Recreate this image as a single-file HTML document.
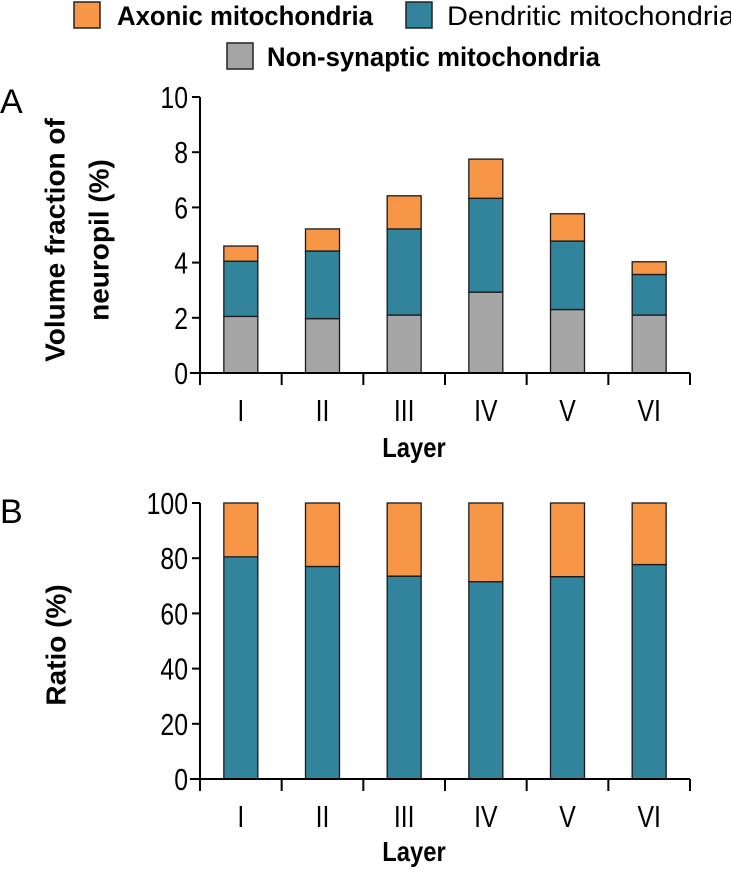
<!DOCTYPE html>
<html><head><meta charset="utf-8"><style>
body{margin:0;background:#fff;}
svg text{font-family:"Liberation Sans",sans-serif;}
</style></head><body>
<svg id="fig" width="731" height="868" xmlns="http://www.w3.org/2000/svg">
<g>
<rect x="74" y="2" width="26" height="26" fill="#F79646" stroke="#222" stroke-width="1.5"/>
<text x="117" y="25" font-size="27" font-weight="bold" textLength="256" lengthAdjust="spacingAndGlyphs">Axonic mitochondria</text>
<rect x="406" y="2" width="26" height="26" fill="#31849B" stroke="#222" stroke-width="1.5"/>
<text x="447" y="25" font-size="27" textLength="288" lengthAdjust="spacingAndGlyphs">Dendritic mitochondria</text>
<rect x="227" y="43" width="26" height="26" fill="#A6A6A6" stroke="#222" stroke-width="1.5"/>
<text x="267" y="66" font-size="27" font-weight="bold" textLength="333" lengthAdjust="spacingAndGlyphs">Non-synaptic mitochondria</text>
</g>
<text x="0" y="113" font-size="34">A</text>
<text x="0" y="523" font-size="34">B</text>
<g id="chartA"></g>
<g id="chartB"></g>
</svg>
<script>
const categories = ["I","II","III","IV","V","VI"];
const nonSynaptic = [2.05,1.97,2.1,2.93,2.3,2.1];
const dendritic = [2.0,2.45,3.12,3.4,2.48,1.47];
const axonic = [0.55,0.8,1.2,1.42,0.99,0.46];
const ticksA = [0,2,4,6,8,10];
const ratioDendritic = [80.5,77,73.5,71.5,73.3,77.7];
const ratioAxonic = [19.5,23,26.5,28.5,26.7,22.3];
const ticksB = [0,20,40,60,80,100];

const NS="http://www.w3.org/2000/svg";
function mk(parent,tag,attrs){const e=document.createElementNS(NS,tag);for(const k in attrs)e.setAttribute(k,attrs[k]);parent.appendChild(e);return e;}

function drawChart(g,opt){
  const x0=200,x1=690,y0=opt.y0,y1=opt.y1;
  const ys=v=>y0-(v-opt.min)/(opt.max-opt.min)*(y0-y1);
  const bw=(x1-x0)/categories.length;
  const xc=i=>x0+bw*(i+0.5);
  opt.series.forEach((s,si)=>{
    categories.forEach((c,i)=>{
      let base=0;for(let k=0;k<si;k++)base+=opt.series[k].vals[i];
      const top=base+s.vals[i];
      const r=mk(g,'rect',{x:xc(i)-17,y:ys(top),width:34,height:ys(base)-ys(top),fill:s.color,stroke:'#1a1a1a','stroke-width':1.3});
      
      
    });
  });
  const ya=mk(g,'line',{x1:x0,y1:ys(opt.max),x2:x0,y2:y0,stroke:'#000','stroke-width':2});
  
  
  const xa=mk(g,'line',{x1:x0-10,y1:y0,x2:x1,y2:y0,stroke:'#000','stroke-width':2});
  
  
  opt.ticks.forEach(t=>{
    const tl=mk(g,'line',{x1:x0-8,y1:ys(t),x2:x0,y2:ys(t),stroke:'#000','stroke-width':2});
    
    
    const tx=mk(g,'text',{x:x0-12,y:ys(t)+11,'font-size':31,'text-anchor':'end',transform:'scale(0.8,1)','transform-origin':(x0-12)+' '+ys(t)});
    tx.textContent=t;
    
    
  });
  for(let i=0;i<=categories.length;i++){
    const tl=mk(g,'line',{x1:x0+bw*i,y1:y0,x2:x0+bw*i,y2:y0+12,stroke:'#000','stroke-width':2});
    
    
  }
  categories.forEach((c,i)=>{
    const tx=mk(g,'text',{x:xc(i),y:y0+48,'font-size':31,'text-anchor':'middle',transform:'scale(0.8,1)','transform-origin':xc(i)+' '+(y0+48)});
    tx.textContent=c;
    
    
  });
  const ly=y0+opt.layerDy;
  const lt=mk(g,'text',{x:414,y:ly,'font-size':28,'font-weight':'bold','text-anchor':'middle',transform:'scale(0.85,1)','transform-origin':'414 '+ly});
  lt.textContent='Layer';
  
  
  opt.ytitle.forEach((line,li)=>{
    const cx=opt.ytx[li], cy=opt.ytc;
    const t=mk(g,'text',{x:cx,y:cy,'font-size':28,'font-weight':'bold','text-anchor':'middle','dominant-baseline':'central',transform:'rotate(-90 '+cx+' '+cy+')'});
    t.textContent=line;
    
    
  });
}
drawChart(document.getElementById('chartA'),{y0:373,y1:97,min:0,max:10,ticks:ticksA,layerDy:84,
  series:[{name:'nonsynaptic',vals:nonSynaptic,color:'#A6A6A6'},{name:'dendritic',vals:dendritic,color:'#31849B'},{name:'axonic',vals:axonic,color:'#F79646'}],
  ytitle:['Volume fraction of','neuropil (%)'],ytx:[55,99],ytc:240});
drawChart(document.getElementById('chartB'),{y0:779,y1:503,min:0,max:100,ticks:ticksB,layerDy:82,
  series:[{name:'dendritic',vals:ratioDendritic,color:'#31849B'},{name:'axonic',vals:ratioAxonic,color:'#F79646'}],
  ytitle:['Ratio (%)'],ytx:[56],ytc:645});
</script>
</body></html>
